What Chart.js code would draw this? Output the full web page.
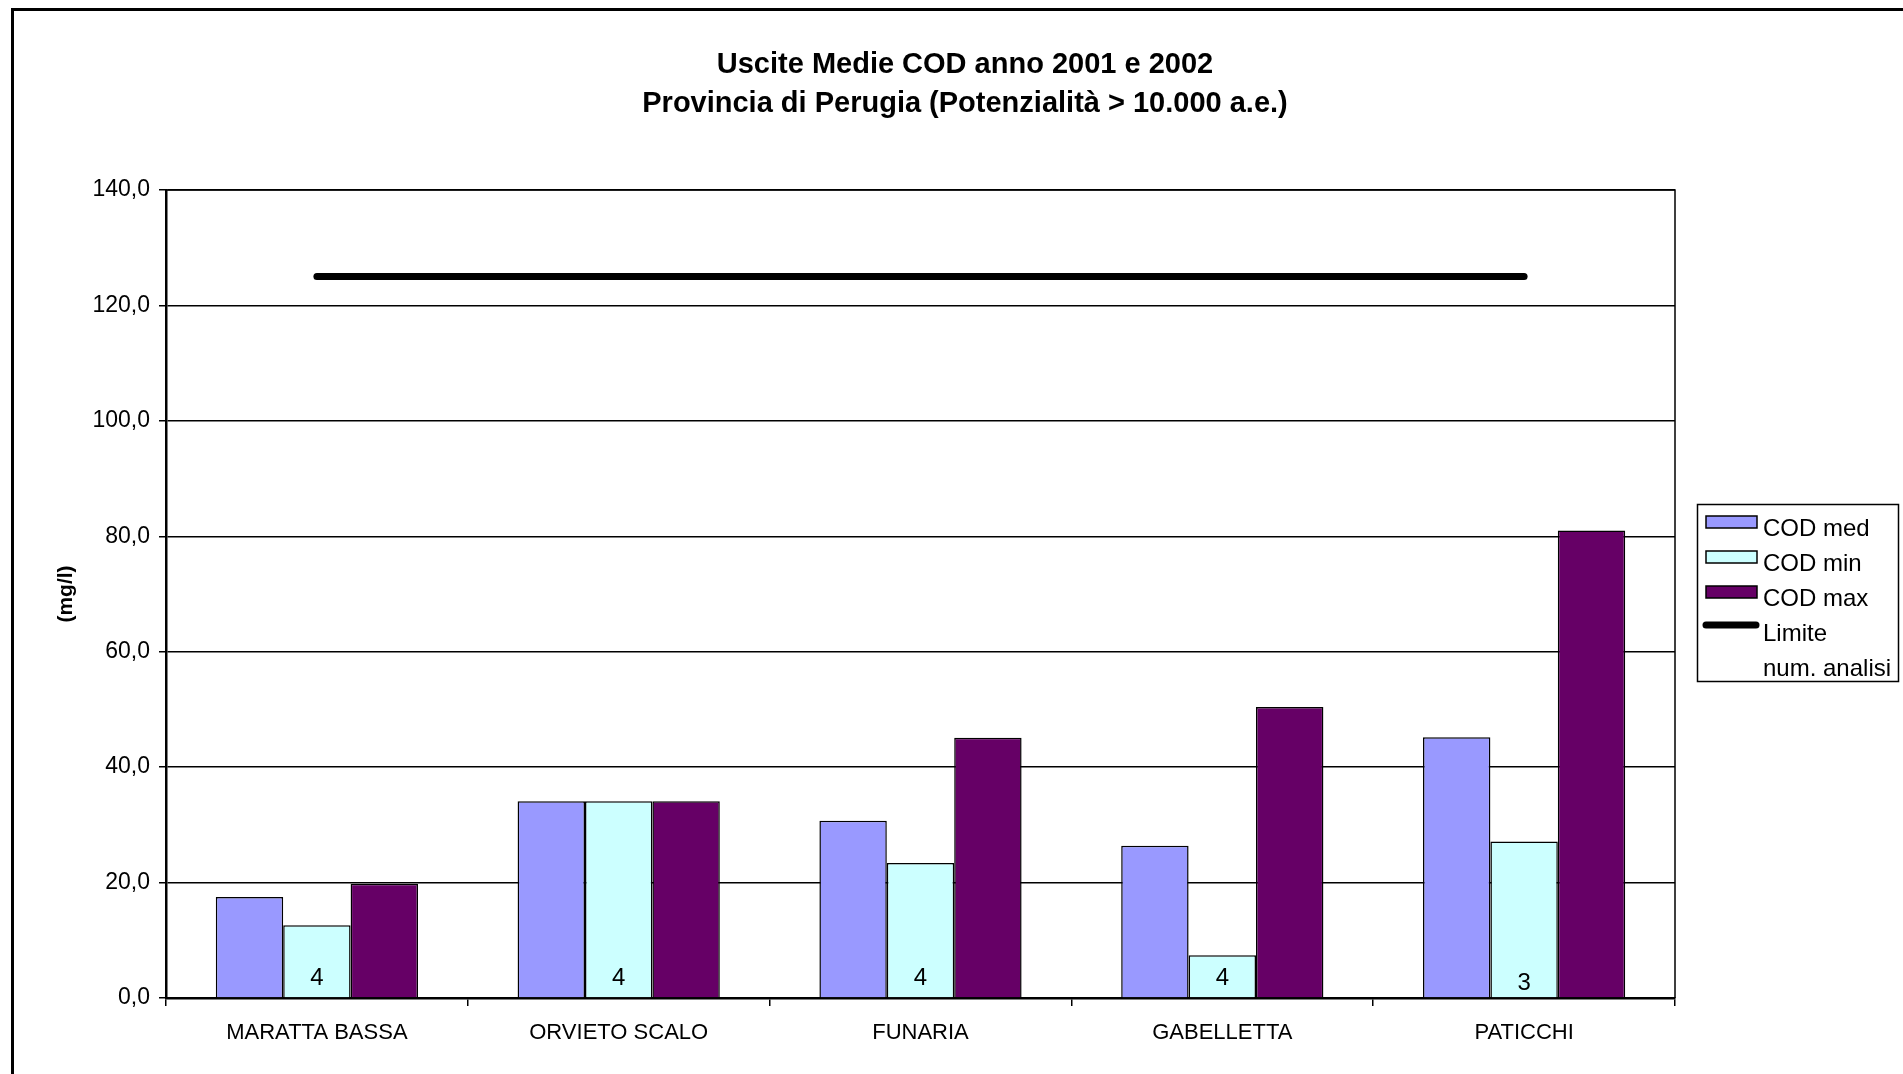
<!DOCTYPE html>
<html>
<head>
<meta charset="utf-8">
<script src="https://cdn.jsdelivr.net/npm/chart.js@4.4.1/dist/chart.umd.min.js"></script>
<style>
  html, body { margin: 0; padding: 0; background: #fff; }
  canvas { display: block; }
</style>
</head>
<body>
<canvas id="codChart" width="1903" height="1074"></canvas>
<script>
const impianti = ["MARATTA BASSA", "ORVIETO SCALO", "FUNARIA", "GABELLETTA", "PATICCHI"];
const codMed = [17.5, 34.1, 30.7, 26.4, 45.2];
const codMin = [12.6, 34.1, 23.4, 7.4, 27.1];
const codMax = [19.8, 34.1, 45.1, 50.4, 81.0];
const limite = [125, 125, 125, 125, 125];
const numAnalisi = [4, 4, 4, 4, 3];
const titleLines = ["Uscite Medie COD anno 2001 e 2002", "Provincia di Perugia (Potenzialità > 10.000 a.e.)"];

const FONT = "'Liberation Sans', Arial, sans-serif";
Chart.defaults.font.family = FONT;
Chart.defaults.color = "#000";

// white page, outer frame, title, plot box
const framePlugin = {
  id: "frame",
  beforeDraw(chart) {
    const ctx = chart.ctx;
    ctx.save();
    ctx.fillStyle = "#fff";
    ctx.fillRect(0, 0, chart.width, chart.height);
    ctx.strokeStyle = "#000";
    ctx.lineWidth = 3;
    ctx.strokeRect(12.5, 9.5, 3000, 3000);

    // title, centred on the whole chart object
    ctx.fillStyle = "#000";
    ctx.font = "bold 29px " + FONT;
    ctx.textAlign = "center";
    ctx.textBaseline = "middle";
    titleLines.forEach((t, i) => ctx.fillText(t, 965, 65 + i * 39));
    ctx.restore();
  },
  beforeDatasetsDraw(chart) {
    const a = chart.chartArea;
    const ctx = chart.ctx;
    ctx.save();
    ctx.strokeStyle = "#000";
    ctx.lineWidth = 1.5;
    ctx.beginPath();
    ctx.moveTo(a.left, a.top);
    ctx.lineTo(a.right, a.top);
    ctx.lineTo(a.right, a.bottom);
    ctx.stroke();
    ctx.restore();
  }
};

// "num. analisi" values written at their points
const countLabels = {
  id: "countLabels",
  afterDatasetsDraw(chart) {
    const ctx = chart.ctx;
    chart.data.datasets.forEach((ds, i) => {
      if (ds.label !== "num. analisi") return;
      const meta = chart.getDatasetMeta(i);
      ctx.save();
      ctx.font = "24px " + FONT;
      ctx.fillStyle = "#000";
      ctx.textAlign = "center";
      ctx.textBaseline = "middle";
      meta.data.forEach((pt, j) => {
        ctx.fillText(String(ds.data[j]), pt.x, pt.y + 3);
      });
      ctx.restore();
    });
  }
};

// boxed legend on the right
const boxLegend = {
  id: "boxLegend",
  afterDraw(chart) {
    const ctx = chart.ctx;
    const x = 1697, y = 504, w = 201, h = 177;
    ctx.save();
    ctx.strokeStyle = "#000";
    ctx.lineWidth = 1.5;
    ctx.strokeRect(x + 0.5, y + 0.5, w, h);
    ctx.font = "24px " + FONT;
    ctx.textBaseline = "middle";
    ctx.textAlign = "left";
    chart.data.datasets.forEach((ds, i) => {
      const cy = y + 22 + i * 35;
      if (ds.type === "bar") {
        ctx.fillStyle = ds.backgroundColor;
        ctx.fillRect(1706, cy - 10, 51, 12);
        ctx.lineWidth = 1.5;
        ctx.strokeStyle = "#000";
        ctx.strokeRect(1706, cy - 10, 51, 12);
      } else if (ds.showLine !== false) {
        ctx.strokeStyle = ds.borderColor;
        ctx.lineWidth = 7;
        ctx.lineCap = "round";
        ctx.beginPath();
        ctx.moveTo(1706, cy - 6);
        ctx.lineTo(1756, cy - 6);
        ctx.stroke();
      }
      ctx.fillStyle = "#000";
      ctx.fillText(ds.label, 1763, cy + 3);
    });
    ctx.restore();
  }
};

const ctx = document.getElementById("codChart").getContext("2d");

new Chart(ctx, {
  data: {
    labels: impianti,
    datasets: [
      {
        type: "bar",
        label: "COD med",
        data: codMed,
        backgroundColor: "#9999FF",
        borderColor: "#000",
        borderWidth: 1.5,
        order: 2
      },
      {
        type: "bar",
        label: "COD min",
        data: codMin,
        backgroundColor: "#CCFFFF",
        borderColor: "#000",
        borderWidth: 1.5,
        order: 2
      },
      {
        type: "bar",
        label: "COD max",
        data: codMax,
        backgroundColor: "#660066",
        borderColor: "#000",
        borderWidth: 1.5,
        order: 2
      },
      {
        type: "line",
        label: "Limite",
        data: limite,
        borderColor: "#000",
        borderWidth: 7,
        borderCapStyle: "round",
        pointRadius: 0,
        fill: false,
        order: 1
      },
      {
        type: "line",
        label: "num. analisi",
        data: numAnalisi,
        showLine: false,
        pointRadius: 0,
        borderColor: "rgba(0,0,0,0)",
        order: 0
      }
    ]
  },
  options: {
    responsive: false,
    animation: false,
    devicePixelRatio: 1,
    layout: {
      padding: { left: 14, right: 228, top: 190, bottom: 0 }
    },
    datasets: {
      bar: {
        barPercentage: 1,
        categoryPercentage: 0.67
      }
    },
    plugins: {
      legend: { display: false },
      tooltip: { enabled: false },
      title: { display: false }
    },
    scales: {
      x: {
        offset: true,
        grid: {
          offset: true,
          drawOnChartArea: false,
          drawTicks: true,
          tickLength: 8,
          color: "#000",
          lineWidth: 1.5
        },
        border: { color: "#000", width: 2.5 },
        ticks: {
          color: "#000",
          font: { size: 22 },
          padding: 14,
          maxRotation: 0,
          autoSkip: false
        },
        afterFit(scale) {
          scale.height = 76;
        }
      },
      y: {
        min: 0,
        max: 140,
        grid: {
          color: "#000",
          lineWidth: 1.5,
          tickLength: 7
        },
        border: { color: "#000", width: 2.5 },
        ticks: {
          stepSize: 20,
          color: "#000",
          font: { size: 23 },
          padding: 9,
          callback: v => v.toFixed(1).replace(".", ",")
        },
        title: {
          display: true,
          text: "(mg/l)",
          color: "#000",
          font: { size: 21, weight: "bold" },
          padding: { top: 40, bottom: 0 }
        },
        afterFit(scale) {
          scale.width = 152;
        }
      }
    }
  },
  plugins: [framePlugin, countLabels, boxLegend]
});
</script>
</body>
</html>
